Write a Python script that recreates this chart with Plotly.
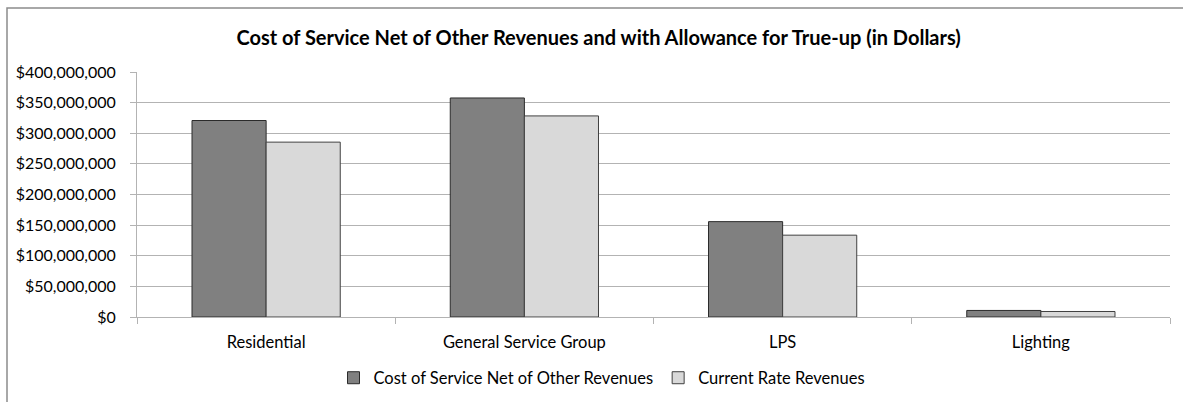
import plotly.graph_objects as go

categories = ["Residential", "General Service Group", "LPS", "Lighting"]
cost_of_service = [320_800_000, 357_600_000, 155_700_000, 10_700_000]
current_rate = [285_500_000, 328_300_000, 133_600_000, 9_000_000]
series_names = ["Cost of Service Net of Other Revenues", "Current Rate Revenues"]
y_ticks = [0, 50_000_000, 100_000_000, 150_000_000, 200_000_000,
           250_000_000, 300_000_000, 350_000_000, 400_000_000]

W, H = 1183, 402
L, R, T, B = 137, 13, 72, 85
pw, ph = W - L - R, H - T - B

FONT = "Lato"
GRID = "#b3b3b3"

fig = go.Figure()
fig.add_trace(go.Bar(
    x=categories, y=cost_of_service, name=series_names[0],
    marker=dict(color="#808080", line=dict(color="#2b2b2b", width=1)),
))
fig.add_trace(go.Bar(
    x=categories, y=current_rate, name=series_names[1],
    marker=dict(color="#d9d9d9", line=dict(color="#404040", width=1)),
))


def px_x(px):
    return (px - L) / pw


def px_y(py):
    return (H - B - py) / ph


# outer chart border (runs off the right and bottom edges)
fig.add_shape(type="rect", xref="paper", yref="paper",
              x0=px_x(7), x1=px_x(1250), y0=px_y(460), y1=px_y(8),
              line=dict(color="#8c8c8c", width=1.5), layer="below")

fig.update_layout(
    width=W, height=H,
    margin=dict(l=L, r=R, t=T, b=B, autoexpand=False),
    paper_bgcolor="white", plot_bgcolor="white",
    barmode="group", bargap=0.426, bargroupgap=0,
    font=dict(family=FONT, color="#000000", size=16.5),
    title=dict(
        text="<b>Cost of Service Net of Other Revenues and with Allowance for True-up (in Dollars)</b>",
        x=0.506, xanchor="center", xref="container",
        y=1 - 38 / H, yanchor="middle", yref="container",
        font=dict(family=FONT, size=20, color="#000000"),
    ),
    legend=dict(
        orientation="h", x=px_x(602), xanchor="center",
        y=px_y(378), yanchor="middle",
        font=dict(family=FONT, size=16.5),
        itemwidth=30, traceorder="normal",
    ),
    xaxis=dict(
        showline=True, linecolor=GRID, linewidth=1,
        ticks="outside", tickson="boundaries", ticklen=6, tickcolor=GRID,
        showgrid=False, tickfont=dict(family=FONT, size=16.5),
        ticklabelstandoff=10,
    ),
    yaxis=dict(
        range=[0, 400_000_000], tickvals=y_ticks,
        tickformat="$,d",
        showline=True, linecolor=GRID, linewidth=1,
        ticks="outside", ticklen=6, tickcolor=GRID,
        showgrid=True, gridcolor=GRID, gridwidth=1,
        zeroline=False, tickfont=dict(family=FONT, size=16),
        ticklabelstandoff=11,
    ),
)

fig.write_html("out.html")
